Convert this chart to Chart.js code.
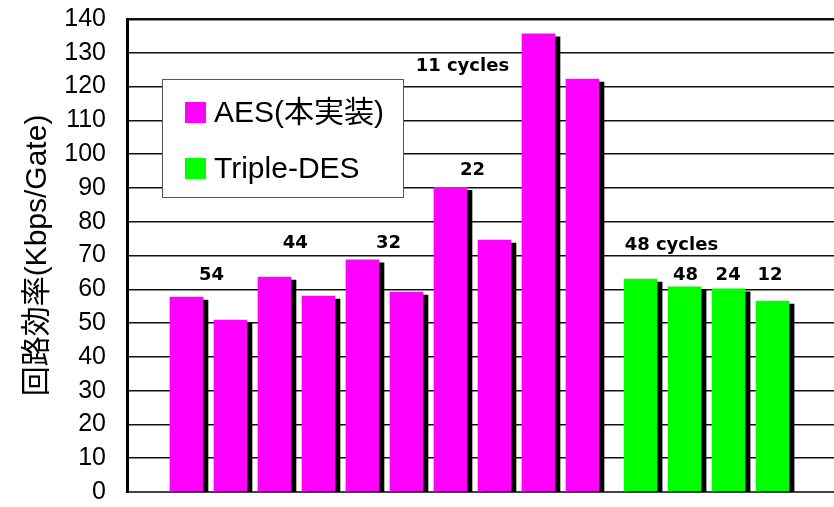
<!DOCTYPE html>
<html>
<head>
<meta charset="utf-8">
<script src="https://cdn.jsdelivr.net/npm/chart.js@4.4.1/dist/chart.umd.min.js"></script>
<style>
  html, body { margin: 0; padding: 0; background: #fff; }
  #wrap { width: 834px; height: 507px; }
</style>
</head>
<body>
<div id="wrap"><canvas id="effChart" width="834" height="507"></canvas></div>
<script>
// series
const seriesNames = ["AES(本実装)", "Triple-DES"];
const seriesColors = ["#ff00ff", "#00ff00"];
const aesValues = [57.7, 50.9, 63.6, 58.0, 68.7, 59.2, 90.2, 74.6, 135.6, 122.2];
const desValues = [63.0, 60.7, 60.1, 56.5];

// y axis
const yMin = 0;
const yMax = 140;
const yStep = 10;

// cycle notes written over the bars
const noteTexts = ["54", "44", "32", "22", "11 cycles", "48 cycles", "48", "24", "12"];

document.addEventListener("DOMContentLoaded", function () {
    const canvas = document.getElementById("effChart");

    const groupGap = 0.32; // extra space between the AES and DES groups (in slots)
    const aesPoints = aesValues.map((v, i) => ({ x: i, y: v }));
    const desPoints = desValues.map((v, j) => ({ x: aesValues.length + groupGap + j, y: v }));

    // where each note sits, in slot / value units
    const noteAnchors = [
        [0.57, 64.2], [2.47, 73.5], [4.59, 73.5], [6.5, 95.2], [6.27, 125.9],
        [11.02, 73.1], [11.34, 64.2], [12.31, 64.2], [13.26, 64.2]
    ];

    // black drop shadow on the right of every bar
    const barShadow = {
        id: "barShadow",
        beforeDatasetsDraw(chart) {
            const ctx = chart.ctx;
            ctx.save();
            ctx.shadowColor = "#000";
            ctx.shadowBlur = 0;
            ctx.shadowOffsetX = 5;
            ctx.shadowOffsetY = 3;
        },
        afterDatasetsDraw(chart) {
            chart.ctx.restore();
        }
    };

    // cycle notes + boxed legend
    const overlay = {
        id: "overlay",
        afterDatasetsDraw(chart) {
            const ctx = chart.ctx;
            const xs = chart.scales.x, ys = chart.scales.y;

            ctx.save();
            ctx.fillStyle = "#000";
            ctx.font = "bold 18px 'DejaVu Sans'";
            ctx.textAlign = "center";
            ctx.textBaseline = "middle";
            noteTexts.forEach((t, i) => {
                const a = noteAnchors[i];
                ctx.fillText(t, xs.getPixelForValue(a[0]), ys.getPixelForValue(a[1]));
            });

            // legend box
            ctx.fillStyle = "#fff";
            ctx.fillRect(162, 79, 241, 118);
            ctx.strokeStyle = "#555";
            ctx.lineWidth = 1;
            ctx.strokeRect(162.5, 79.5, 241, 118);

            ctx.font = "30px 'Liberation Sans', 'Noto Sans CJK JP'";
            ctx.textAlign = "left";
            chart.data.datasets.forEach((ds, i) => {
                const cy = 112.5 + i * 56;
                ctx.fillStyle = ds.backgroundColor;
                ctx.fillRect(185, cy - 10.5, 21, 21);
                ctx.fillStyle = "#000";
                ctx.fillText(ds.label, 214, cy + 1);
            });
            ctx.restore();
        }
    };

    new Chart(canvas.getContext("2d"), {
        type: "bar",
        data: {
            datasets: [
                { label: seriesNames[0], data: aesPoints, backgroundColor: seriesColors[0] },
                { label: seriesNames[1], data: desPoints, backgroundColor: seriesColors[1] }
            ]
        },
        options: {
            responsive: false,
            devicePixelRatio: 1,
            animation: false,
            layout: { padding: { top: 19, bottom: 15, left: 0, right: 0 } },
            datasets: {
                bar: { grouped: false, barThickness: 33, borderWidth: 0 }
            },
            plugins: {
                legend: { display: false },
                tooltip: { enabled: false }
            },
            scales: {
                x: {
                    type: "linear",
                    display: false,
                    offset: false,
                    min: -1.352,
                    max: 14.716
                },
                y: {
                    min: yMin,
                    max: yMax,
                    afterFit(scale) {
                        scale.width = 127;
                        scale.paddingTop = 0;
                        scale.paddingBottom = 0;
                    },
                    ticks: {
                        stepSize: yStep,
                        padding: 21,
                        color: "#000",
                        font: { family: "'Liberation Sans'", size: 25 }
                    },
                    grid: {
                        drawTicks: false,
                        color: (c) => c.tick && c.tick.value === yMin ? "#444" : "#111",
                        lineWidth: (c) => {
                            if (!c.tick) return 1.5;
                            if (c.tick.value === yMax) return 2.5;
                            if (c.tick.value === yMin) return 2;
                            return 1.5;
                        }
                    },
                    border: { display: true, color: "#000", width: 3 },
                    title: {
                        display: true,
                        text: "回路効率(Kbps/Gate)",
                        color: "#000",
                        padding: { top: 20, bottom: 0 },
                        font: { family: "'Liberation Sans', 'Noto Sans CJK JP'", size: 30, weight: "normal" }
                    }
                }
            }
        },
        plugins: [barShadow, overlay]
    });
});
</script>
</body>
</html>
